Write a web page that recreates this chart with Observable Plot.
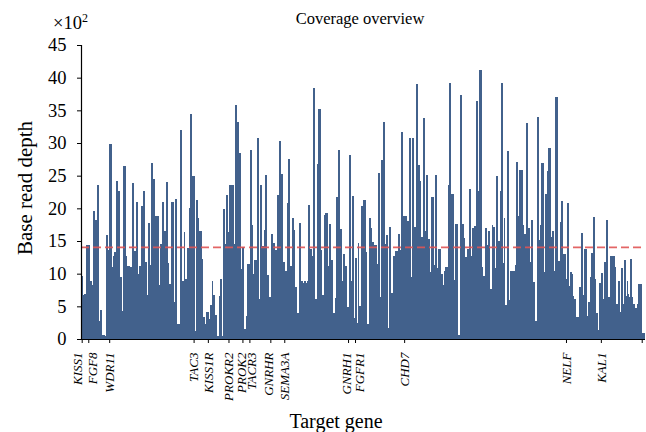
<!DOCTYPE html>
<html><head><meta charset="utf-8">
<script src="https://cdn.jsdelivr.net/npm/d3@7"></script>
<script src="https://cdn.jsdelivr.net/npm/@observablehq/plot@0.6"></script>
<style>
body{margin:0;background:#fff;}
#wrap{position:relative;width:646px;height:432px;font-family:"Liberation Serif","Times New Roman",serif;color:#000;}
.lab{position:absolute;white-space:nowrap;line-height:1;}
</style></head>
<body><div id="wrap"></div>
<script>
// Base read depth (x100) per target position
const depth = [
9.7,9.7,6.7,6.9,6.9,14.4,14.4,14.4,14.4,8.9,8.9,8.3,19.6,19.6,18.2,18.2,23.6,23.6,2.8,4.4,4.4,
0.6,0.6,0.6,0.4,15.9,15.9,13.6,29.8,29.8,29.8,11.0,12.7,13.3,13.3,24.2,24.2,22.7,22.7,9.5,9.5,4.3,
26.5,26.5,26.5,12.7,11.2,11.2,11.2,11.0,11.0,23.9,23.9,13.5,13.5,21.0,21.0,9.9,11.2,11.2,20.4,20.4,
22.7,22.7,11.8,11.8,6.7,17.7,17.7,11.3,26.9,26.9,24.5,24.5,18.8,18.8,18.8,18.8,8.3,14.5,14.5,21.0,21.0,
16.5,16.5,24.0,24.0,11.6,8.4,8.4,21.0,21.0,21.0,5.7,21.4,21.4,2.3,2.3,2.3,32.0,32.0,8.9,8.9,16.4,9.2,9.2,
13.9,13.9,20.1,34.4,34.4,24.9,24.9,24.9,
1.2,21.3,21.3,18.5,16.5,16.5,16.5,12.2,3.4,3.4,2.3,4.1,4.1,4.1,3.1,5.2,5.2,8.9,6.7,6.7,3.7,3.7,0.5,0.5,
6.6,9.2,9.2,9.2,0.5,19.9,19.9,14.5,22.0,22.0,16.4,23.6,23.6,23.6,23.6,23.6,14.5,35.8,35.8,33.2,33.2,
28.5,28.5,10.7,14.1,14.1,1.5,1.5,3.5,11.5,11.5,11.5,28.9,28.9,17.4,9.9,12.1,12.1,12.1,30.8,30.8,6.1,
23.6,23.6,14.2,14.2,16.7,25.1,25.1,9.8,9.8,6.4,6.4,16.1,16.1,14.7,14.7,13.6,13.6,22.0,22.0,30.3,30.3,
25.3,25.3,11.8,11.8,10.4,10.4,20.8,27.6,27.6,11.2,11.2,18.5,18.5,16.7,8.0,8.0,4.0,4.0,17.8,17.8,8.9,8.9,8.6,
8.9,8.9,8.6,8.9,
20.5,20.5,13.8,13.8,12.7,38.4,38.4,6.1,6.1,26.8,35.2,35.2,35.2,13.6,6.7,6.7,19.0,19.3,19.3,19.3,11.2,
17.6,17.6,12.1,12.1,4.0,4.0,6.3,21.7,21.7,28.9,28.9,16.8,16.8,8.9,13.0,13.0,11.2,11.2,4.9,4.9,28.2,28.2,
8.9,21.9,21.9,3.2,12.4,12.4,2.4,14.7,5.1,5.1,20.4,20.4,21.3,21.3,21.3,13.3,2.3,2.3,18.5,18.5,17.0,14.8,14.8,
14.4,14.4,14.4,11.5,25.4,25.4,6.4,27.4,27.4,33.2,33.2,14.5,15.9,15.9,1.7,17.1,17.1,7.0,7.0,12.7,12.7,
13.5,13.5,13.5,16.1,16.1,13.6,31.7,31.7,18.8,18.8,18.8,18.8,18.1,18.1,30.8,30.8,9.5,30.8,30.8,17.1,17.1,39.0,39.0,
26.6,26.6,24.2,15.6,15.6,33.8,33.8,16.5,25.1,25.1,15.3,15.3,10.3,21.7,21.7,21.7,11.3,25.1,25.1,10.9,
13.8,13.8,13.8,9.9,9.9,8.3,10.4,11.0,11.0,11.0,23.6,39.2,39.2,22.2,22.2,22.2,9.0,17.6,17.6,17.6,0.6,0.6,
37.3,37.3,17.6,17.6,15.5,12.6,12.6,13.8,13.8,23.0,23.0,12.7,17.0,17.0,17.3,17.3,36.4,36.4,22.7,41.2,41.2,41.2,
11.0,9.6,9.6,17.0,17.0,14.4,16.5,16.5,7.7,7.7,17.4,17.1,17.1,10.9,24.9,24.9,15.0,15.0,22.7,39.2,39.2,
11.6,11.6,18.5,5.2,5.2,28.8,28.8,6.0,10.4,10.4,10.4,10.4,10.4,11.3,27.1,27.1,18.8,25.9,25.9,25.9,25.9,17.4,16.1,16.1,
33.1,33.1,17.0,17.0,11.8,18.2,18.2,8.7,8.7,2.8,2.8,34.0,34.0,15.2,17.4,26.9,26.9,26.9,10.3,22.2,22.2,25.7,
29.2,29.2,29.2,15.6,16.5,16.5,10.4,37.0,37.0,37.0,11.9,11.9,17.9,21.1,21.1,13.0,13.0,13.0,9.2,20.8,20.8,8.1,
10.3,10.3,9.9,6.6,6.1,6.1,3.4,3.4,3.4,8.0,8.0,16.2,16.2,6.7,13.8,13.8,13.8,3.5,5.7,5.7,9.5,13.2,13.2,
18.7,18.7,9.2,4.0,4.0,1.4,8.6,8.6,10.1,10.1,6.1,11.8,11.8,18.2,18.2,6.4,6.4,12.7,12.7,12.7,12.7,12.7,11.0,
5.4,5.4,8.9,8.9,4.1,10.9,10.9,5.4,12.1,12.1,6.6,8.9,6.9,6.4,12.2,12.2,6.4,5.4,5.4,4.7,4.7,5.4,8.4,8.4,8.4,8.4,
0.9,0.9,0.9
];
const threshold = 14.1;
const genes   = ["KISS1","FGF8","WDR11","TAC3","KISS1R","PROKR2","PROK2","TACR3","GNRHR","SEMA3A","GNRH1","FGFR1","CHD7","NELF","KAL1",""];
const geneIdx = [0.7, 7.3, 28.3, 113, 127.3, 148, 162, 169, 190, 204, 268, 275, 324.3, 486.7, 521.7, 562.7];
const yTicks  = [0,5,10,15,20,25,30,35,40,45];

const N = depth.length;
const idx = d3.range(N);
const labelNudge = {KISS1:-4, FGF8:4, PROK2:-1, TACR3:2, GNRHR:-2, GNRH1:-2, FGFR1:4};
const geneRows = genes.map((g,i)=>({g, x: geneIdx[i]})).filter(d=>d.g);

const chart = Plot.plot({
  width: 646, height: 432,
  marginLeft: 81, marginRight: 1, marginTop: 45, marginBottom: 93,
  style: {fontFamily: '"Liberation Serif", "Times New Roman", serif', fontSize: "18.5px", color: "#000", background: "#fff", overflow: "visible"},
  x: {domain: [0, N], ticks: geneIdx, tickSize: 4, tickFormat: () => "", label: null},
  y: {domain: [0, 45], ticks: yTicks, tickSize: 4, tickPadding: 11, label: null},
  marks: [
    Plot.rectY(idx, {x1: i => i, x2: i => i + 1, y: i => depth[i], fill: "#42618c", shapeRendering: "crispEdges"}),
    Plot.ruleY([threshold], {stroke: "#e05555", strokeDasharray: "8,4", strokeWidth: 1.6, strokeOpacity: 0.9}),
    Plot.ruleX([0], {y1: 0, y2: 45, stroke: "#000", strokeWidth: 1.2}),
    Plot.ruleY([0], {stroke: "#000", strokeWidth: 1.2}),
    Plot.text(geneRows, {x: "x", text: "g", frameAnchor: "bottom", dy: 13, rotate: -90,
      textAnchor: "end", lineAnchor: "middle", fontStyle: "italic", fontSize: 13})
  ]
});
// apply per-label nudges (label spacing only)
d3.select(chart).selectAll("g[aria-label='text'] text")
  .each(function(){
    const n = labelNudge[this.textContent];
    if (n === undefined) return;
    const t = d3.select(this);
    t.attr("transform", `translate(${n},0) ` + (t.attr("transform") || ""));
  });
const wrap = document.getElementById("wrap");
wrap.appendChild(chart);
function addLabel(html, css){const d=document.createElement("div");d.className="lab";d.innerHTML=html;Object.assign(d.style,css);wrap.appendChild(d);}
addLabel("Coverage overview", {left:"360px", top:"11px", fontSize:"16.5px", transform:"translateX(-50%)"});
addLabel("×10<sup style='font-size:12px;vertical-align:7px'>2</sup>", {left:"53px", top:"12px", fontSize:"18.5px"});
addLabel("Base read depth", {left:"25px", top:"188px", fontSize:"21px", transform:"translate(-50%,-50%) rotate(-90deg)"});
addLabel("Target gene", {left:"336px", top:"411px", fontSize:"20px", transform:"translateX(-50%)"});
</script></body></html>
